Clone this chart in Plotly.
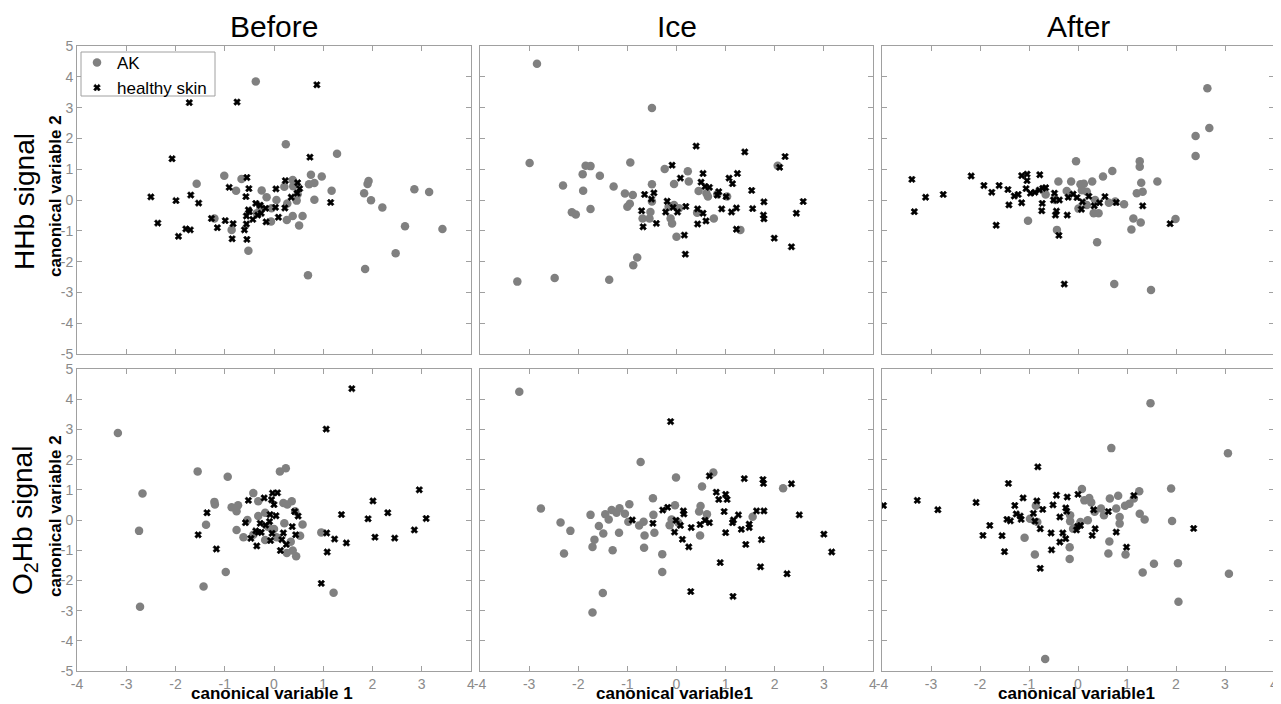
import plotly.graph_objects as go

# ---------------- data ----------------
# Panel 1: Before, HHb signal
before_hhb_ak_x = [-0.37, 0.24, 1.28, -1.01, -0.66, -1.57, -0.77, -0.25, -0.15, 0.21, 0.38, 0.39, 0.48, 0.46,
                   0.27, 0.38, 0.26, 0.58, 0.51, 0.75, 0.82, 0.71, 0.97, 0.82, 1.17, -0.06, 0.05, -0.05, -0.86,
                   -0.52, -1.21, 0.69, 1.83, 1.92, 1.90, 1.97, 2.20, 2.85, 3.15, 3.42, 2.66, 2.47, 1.85, -0.35, -0.28]
before_hhb_ak_y = [3.85, 1.81, 1.50, 0.79, 0.68, 0.53, 0.30, 0.31, 0.09, 0.43, 0.65, 0.45, 0.19, -0.02,
                   -0.11, -0.52, -0.65, -0.52, -0.83, 0.82, 0.55, 0.51, 0.76, 0.01, 0.30, -0.70, 0.00, -0.27, -0.97,
                   -1.65, -0.60, -2.44, 0.22, 0.62, 0.52, -0.01, -0.24, 0.35, 0.26, -0.94, -0.85, -1.73, -2.24, -0.43, -0.22]
before_hhb_hs_x = [-1.72, -0.75, 0.87, -2.07, 0.73, -2.50, -2.36, -1.99, -1.69, -1.53, -1.94, -1.79, -1.70, -1.27,
                   -1.15, -0.99, -0.91, -0.83, -0.85, -0.55, -0.51, -0.57, -0.52, -0.56, -0.50, -0.60, -0.56, -0.55,
                   -0.43, -0.37, -0.28, -0.33, -0.26, -0.17, -0.16, 0.04, 0.03, 0.09, 0.23, 0.22, 0.35, 0.48, 0.52, 0.47, 1.15]
before_hhb_hs_y = [3.16, 3.18, 3.74, 1.34, 1.39, 0.10, -0.75, -0.02, 0.16, -0.10, -1.18, -0.94, -0.97, -0.60,
                   -0.90, -0.67, 0.41, -0.77, -1.26, 0.73, 0.37, 0.11, -0.32, -0.52, -0.38, -0.97, -0.78, -1.28,
                   -0.63, -0.11, -0.17, -0.49, -0.43, -0.27, -0.71, 0.36, -0.24, -0.56, 0.63, -0.26, 0.09, 0.56, 0.37, 0.22, -0.08]

# Panel 2: Ice, HHb signal
ice_hhb_ak_x = [-2.84, -0.50, -2.99, -0.94, -1.85, -1.75, -1.91, -1.56, -2.31, -1.90, -1.28, -1.05, -0.89, -0.50,
                -0.24, -0.05, 0.23, 0.25, -2.13, -2.05, -1.75, -1.00, -0.95, -0.50, -0.53, -0.69, -0.55, -0.12,
                -0.09, -0.05, 0.05, 0.00, 0.45, 0.64, 0.61, 0.42, 0.76, 1.03, 1.30, 2.06, -0.80, -0.88, -2.48,
                -1.37, -3.24, -0.16, 0.83]
ice_hhb_ak_y = [4.42, 2.99, 1.20, 1.22, 1.11, 1.10, 0.84, 0.79, 0.47, 0.30, 0.44, 0.21, 0.16, 0.51,
                1.01, 0.52, 0.93, 0.60, -0.40, -0.47, -0.29, -0.22, -0.12, -0.05, -0.39, -0.60, -0.60, -0.60,
                -0.76, -0.16, -0.27, -1.19, 0.29, 0.11, 0.22, -0.41, -0.60, 0.11, -0.97, 1.11, -1.87, -2.12, -2.53,
                -2.59, -2.65, -0.22, 0.19]
ice_hhb_hs_x = [0.40, 1.39, 2.21, 2.10, -0.09, 0.08, 0.54, 0.50, 0.58, 0.67, 1.07, 1.24, 1.14, 0.86, 0.83, 1.01,
                1.53, 1.78, 2.58, 2.44, 1.77, 1.78, 1.55, 1.22, 1.12, 0.92, -0.65, -0.46, -0.51, -0.71, -0.68,
                -0.41, -0.19, -0.07, -0.22, 0.02, 0.19, 0.43, 0.54, 0.43, 0.60, 0.16, 0.18, 1.22, 1.99, 2.34]
ice_hhb_hs_y = [1.75, 1.56, 1.41, 1.06, 1.13, 0.71, 0.86, 0.58, 0.44, 0.41, 0.71, 0.86, 0.53, 0.27, 0.16, 0.11,
                0.31, -0.06, -0.05, -0.43, -0.49, -0.61, -0.28, -0.26, -0.39, -0.29, 0.18, 0.23, 0.03, -0.35, -0.87,
                -0.76, -0.04, -0.24, -0.39, -0.39, -0.21, -0.29, -0.43, -0.78, -0.68, -1.14, -1.76, -0.95, -1.24, -1.52]

# Panel 3: After, HHb signal
after_hhb_ak_x = [2.64, 2.68, 2.40, 2.40, -0.04, 0.70, 1.26, 1.26, 0.51, -0.40, -0.14, 0.05, 0.12, 0.29, 1.29,
                  1.62, -0.23, 0.08, 0.18, -0.66, 1.20, 1.32, 0.63, 0.76, 0.94, 0.35, 0.01, 0.18, 0.32, 0.42,
                  -1.02, 1.13, 1.28, 1.99, -0.43, 1.09, 0.39, 0.74, 1.49, -0.46]
after_hhb_ak_y = [3.63, 2.34, 2.08, 1.43, 1.26, 0.94, 1.26, 1.08, 0.76, 0.60, 0.60, 0.51, 0.53, 0.60, 0.56,
                  0.60, 0.29, 0.32, 0.27, 0.18, 0.22, 0.27, -0.09, -0.05, -0.14, 0.00, -0.28, -0.16, -0.43, -0.43,
                  -0.67, -0.60, -0.73, -0.62, -0.97, -0.96, -1.37, -2.73, -2.92, 0.00]
after_hhb_hs_x = [-3.39, -3.34, -3.11, -2.75, -2.18, -1.92, -1.76, -1.61, -1.43, -1.30, -1.22, -1.41, -1.15, -1.67,
                  -1.15, -1.04, -1.04, -1.06, -0.97, -0.88, -0.78, -0.79, -0.72, -0.66, -0.73, -0.74, -0.48, -0.50,
                  -0.38, -0.44, -0.46, -0.22, -0.39, -0.20, -0.10, -0.02, 0.09, 0.07, 0.22, 0.33, 0.44, 0.55, 0.78,
                  1.32, 1.88, -0.28]
after_hhb_hs_y = [0.67, -0.38, 0.09, 0.18, 0.78, 0.47, 0.25, 0.47, 0.34, 0.13, 0.18, -0.16, -0.09, -0.82,
                  0.79, 0.84, 0.63, 0.37, 0.22, 0.25, 0.82, 0.32, 0.38, 0.40, -0.11, -0.35, 0.22, 0.00,
                  0.00, -0.36, -0.49, -0.49, -1.15, 0.09, 0.19, 0.08, -0.06, -0.30, 0.12, -0.19, -0.09, 0.11, -0.08,
                  -0.19, -0.77, -2.73]

# Panel 4: Before, O2Hb signal
before_o2_ak_x = [-3.17, -2.67, -2.74, -2.72, -1.55, -0.94, -1.21, -1.20, -1.38, -1.43, -0.98, -0.86, -0.73, -0.76,
                  -0.76, -0.42, -0.32, -0.54, -0.62, -0.42, -0.32, -0.18, -0.18, -0.12, 0.00, 0.12, 0.24, 0.19,
                  0.27, 0.36, 0.21, 0.34, 0.26, 0.38, 0.45, 0.53, 0.58, 0.96, 1.21, 0.05, 0.43]
before_o2_ak_y = [2.88, 0.88, -0.36, -2.87, 1.61, 1.43, 0.60, 0.51, -0.16, -2.20, -1.72, 0.42, 0.49, 0.29,
                  -0.33, 0.89, 0.62, 0.00, -0.57, -0.49, 0.13, 0.24, -0.66, -0.22, -0.30, 1.61, 1.71, 0.56,
                  0.51, 0.62, -0.11, -0.72, -1.09, -1.01, -1.20, -0.52, -0.15, -0.41, -2.41, -0.57, 0.29]
before_o2_hs_x = [1.58, 1.06, 2.95, 2.01, 2.31, 1.37, 1.91, 3.09, 2.85, 2.05, 2.45, 1.07, 1.23, 1.47, 1.08, 0.96,
                  -1.36, -1.54, -1.17, -0.52, -0.20, -0.03, 0.07, -0.05, 0.00, -0.08, 0.04, -0.58, -0.37, -0.32,
                  -0.26, -0.28, -0.17, -0.09, -0.04, -0.07, -0.47, -0.35, 0.19, 0.16, 0.25, 0.13, 0.37, 0.42, 0.49, 0.44]
before_o2_hs_y = [4.35, 3.01, 1.00, 0.63, 0.24, 0.18, 0.04, 0.05, -0.33, -0.57, -0.60, -0.43, -0.63, -0.76, -1.06, -2.10,
                  0.24, -0.49, -0.96, 0.65, 0.73, 0.89, 0.90, 0.67, 0.51, 0.18, 0.14, -0.09, -0.36, -0.41,
                  -0.41, -0.11, -0.17, -0.05, -0.44, -0.68, -0.61, -0.86, -0.43, -0.65, -0.81, -1.01, -0.22, 0.28, 0.13, -0.49]

# Panel 5: Ice, O2Hb signal
ice_o2_ak_x = [-3.20, -0.73, 0.75, -0.01, 0.52, 2.17, -2.76, -2.36, -2.16, -2.29, -1.75, -1.67, -1.71, -1.58,
               -1.49, -1.45, -1.38, -1.32, -1.22, -1.16, -1.05, -0.96, -0.98, -1.17, -1.30, -0.76, -0.67, -0.65,
               -0.66, -0.48, -0.47, -0.45, -0.29, -0.29, -0.14, -0.03, -0.10, 0.49, 0.46, 0.62, 0.48, 1.55,
               -1.50, -1.71, 0.04]
ice_o2_ak_y = [4.25, 1.92, 1.57, 1.41, 1.11, 1.05, 0.38, -0.08, -0.36, -1.11, 0.17, -0.65, -0.89, -0.20,
               -0.45, 0.19, 0.02, 0.33, 0.24, 0.39, 0.21, 0.52, -0.06, -0.42, -1.00, -0.18, -0.06, -0.51,
               -0.92, 0.72, 0.17, -0.42, -1.13, -1.72, -0.17, 0.49, 0.02, 0.46, 0.28, 0.19, -0.51, 0.11,
               -2.42, -3.06, -0.09]
ice_o2_hs_x = [-0.12, 0.67, 1.38, 1.76, 1.77, 2.34, 0.81, 1.00, 1.03, 0.86, 0.97, -0.28, -0.18, 0.14, 0.15, -0.01,
               0.08, -0.04, 0.12, 0.25, 0.30, 0.48, 0.58, 0.67, -0.48, -0.90, 1.26, 1.14, 1.16, 1.32, 1.48, 1.48,
               1.63, 1.78, 1.00, 1.41, 1.73, 2.50, 3.00, 3.16, 0.89, 1.71, 2.25, 0.29, 1.15]
ice_o2_hs_y = [3.26, 1.46, 1.37, 1.34, 1.21, 1.20, 0.92, 0.85, 0.68, 0.68, 0.28, 0.33, 0.42, 0.30, 0.20, -0.01,
               -0.18, -0.40, -0.64, -0.89, -0.25, -0.15, -0.01, -0.09, -0.11, 0.00, 0.17, -0.09, 0.00, -0.31, -0.14, -0.25,
               0.30, 0.30, -0.42, -0.81, -0.65, 0.17, -0.47, -1.06, -1.41, -1.55, -1.78, -2.37, -2.53]

# Panel 6: After, O2Hb signal
after_o2_ak_x = [1.48, 0.68, 3.06, 1.90, 1.25, 0.08, 0.23, 0.27, 0.13, 0.65, 0.82, 0.78, 1.05, 0.96, 1.14, 0.85,
                 0.85, 1.26, 1.36, 1.92, 0.47, 0.53, 0.34, 0.20, 0.05, -0.10, -0.16, -0.16, -0.86, -0.98, -0.83,
                 -1.09, -0.88, -0.17, -0.17, 0.64, 0.62, 0.97, 1.32, 1.55, 2.04, 3.08, 2.05, -0.67]
after_o2_ak_y = [3.87, 2.38, 2.21, 1.04, 0.95, 1.03, 0.73, 0.58, 0.65, 0.71, 0.80, 0.38, 0.54, 0.47, 0.71, 0.10,
                 -0.12, 0.21, 0.02, -0.03, 0.38, 0.16, 0.27, -0.01, -0.07, -0.29, 0.16, -0.04, 0.47, 0.04, -0.07,
                 -0.59, -1.14, -0.90, -1.29, -0.71, -1.11, -1.14, -1.74, -1.45, -1.43, -1.78, -2.71, -4.60]
after_o2_hs_x = [-3.97, -3.28, -2.86, -2.08, -1.42, -0.82, -1.80, -1.94, -1.55, -1.50, -1.45, -1.38, -1.29, -1.26,
                 -1.18, -1.12, -1.16, -0.91, -0.84, -0.88, -0.72, -0.77, -0.77, -0.55, -0.54, -0.51, -0.44, -0.37,
                 -0.37, -0.31, -0.25, -0.25, -0.22, -0.23, 0.00, -0.01, 0.05, -0.03, 0.32, 0.35, 0.29, 0.62, 0.78,
                 1.14, 0.99, 2.36]
after_o2_hs_y = [0.48, 0.65, 0.34, 0.58, 1.21, 1.76, -0.18, -0.51, -0.52, -1.05, 0.02, -0.03, 0.48, 0.20,
                 0.13, 0.73, 0.02, 0.22, 0.63, -0.04, 0.35, -0.29, -1.60, -0.43, -0.99, 0.50, 0.82, 0.10,
                 -0.73, -0.43, -0.62, 0.40, 0.76, 0.29, 0.85, -0.21, -0.18, -0.33, 0.34, -0.29, -0.51, 0.28, -0.40,
                 0.81, -0.90, -0.28]

column_titles = ["Before", "Ice", "After"]
row_titles = ["HHb signal", "O<sub>2</sub>Hb signal"]
x_titles = ["canonical variable 1", "canonical variable1", "canonical variable1"]
y_title = "canonical variable 2"
series_names = ["AK", "healthy skin"]
axis_ticks = [-4, -3, -2, -1, 0, 1, 2, 3, 4]
axis_yticks = [-5, -4, -3, -2, -1, 0, 1, 2, 3, 4, 5]

panels = [
    (before_hhb_ak_x, before_hhb_ak_y, before_hhb_hs_x, before_hhb_hs_y),
    (ice_hhb_ak_x, ice_hhb_ak_y, ice_hhb_hs_x, ice_hhb_hs_y),
    (after_hhb_ak_x, after_hhb_ak_y, after_hhb_hs_x, after_hhb_hs_y),
    (before_o2_ak_x, before_o2_ak_y, before_o2_hs_x, before_o2_hs_y),
    (ice_o2_ak_x, ice_o2_ak_y, ice_o2_hs_x, ice_o2_hs_y),
    (after_o2_ak_x, after_o2_ak_y, after_o2_hs_x, after_o2_hs_y),
]

# ---------------- figure ----------------
# The page body adds an 8 px margin, so the figure is made 8 px smaller and
# every screen position is shifted by that offset.
OFF = 8
W, H = 1281 - OFF, 704 - OFF
FONT = "Liberation Sans, Arial, sans-serif"
GRAY_PT = "#808080"
AXIS_C = "#a0a0a0"
TICK_C = "#8a8a8a"


def fx(px):
    return (px - OFF) / W


def fy(py):
    return 1 - (py - OFF) / H


col_px = [(77, 471), (480, 873), (882, 1274)]
row_px = [(46, 354), (369, 671)]

fig = go.Figure()
layout = dict(
    width=W, height=H,
    margin=dict(l=0, r=0, t=0, b=0, pad=0, autoexpand=False),
    paper_bgcolor="white", plot_bgcolor="white",
    font=dict(family=FONT, color="black"),
    showlegend=True,
    legend=dict(x=fx(77), y=fy(45), xanchor="left", yanchor="top",
                bgcolor="rgba(0,0,0,0)", borderwidth=0,
                font=dict(size=17, family=FONT, color="black"),
                itemwidth=30, tracegroupgap=0),
)

for i, (akx, aky, hsx, hsy) in enumerate(panels):
    r, c = divmod(i, 3)
    idx = i + 1
    xa = "x" if idx == 1 else f"x{idx}"
    ya = "y" if idx == 1 else f"y{idx}"
    fig.add_trace(go.Scatter(
        x=akx, y=aky, mode="markers", name=series_names[0], legendgroup="ak",
        showlegend=(i == 0), xaxis=xa, yaxis=ya,
        marker=dict(symbol="circle", size=8.5, color=GRAY_PT, line=dict(width=0)),
    ))
    fig.add_trace(go.Scatter(
        x=hsx, y=hsy, mode="markers", name=series_names[1], legendgroup="hs",
        showlegend=(i == 0), xaxis=xa, yaxis=ya,
        marker=dict(symbol="x", size=6, color="black", line=dict(width=0.6, color="black")),
    ))
    x0, x1 = col_px[c]
    y0, y1 = row_px[r]
    xkey = "xaxis" if idx == 1 else f"xaxis{idx}"
    ykey = "yaxis" if idx == 1 else f"yaxis{idx}"
    common = dict(showline=True, linecolor=AXIS_C, linewidth=1, mirror="ticks",
                  ticks="inside", ticklen=5, tickcolor=AXIS_C, tickwidth=1,
                  showgrid=False, zeroline=False, automargin=False,
                  tickfont=dict(family=FONT, size=14, color=TICK_C), fixedrange=True)
    layout[xkey] = dict(common, domain=[fx(x0), fx(x1)], range=[-4, 4],
                        tickmode="array", tickvals=axis_ticks,
                        ticktext=[str(v) for v in axis_ticks],
                        showticklabels=(r == 1), anchor=ya)
    layout[ykey] = dict(common, domain=[fy(y1), fy(y0)], range=[-5, 5],
                        tickmode="array", tickvals=axis_yticks,
                        ticktext=[str(v) for v in axis_yticks],
                        showticklabels=(c == 0), anchor=xa)

# legend frame (opaque box like the reference)
shapes = [dict(type="rect", xref="paper", yref="paper",
               x0=fx(81), x1=fx(215), y0=fy(96), y1=fy(52),
               line=dict(color="#a0a0a0", width=1), fillcolor="white", layer="above")]

annotations = []
# column titles
for c, t in enumerate(column_titles):
    x0, x1 = col_px[c]
    annotations.append(dict(text=t, x=fx((x0 + x1) / 2), y=fy(27), xref="paper", yref="paper",
                            showarrow=False, xanchor="center", yanchor="middle",
                            font=dict(size=30, family=FONT, color="black")))
# row titles and y-axis titles
row_centers = [202, 521]
for r, t in enumerate(row_titles):
    annotations.append(dict(text=t, x=fx(24), y=fy(row_centers[r]), xref="paper", yref="paper",
                            showarrow=False, textangle=-90, xanchor="center", yanchor="middle",
                            font=dict(size=28, family=FONT, color="black")))
    y0, y1 = row_px[r]
    annotations.append(dict(text=f"<b>{y_title}</b>", x=fx(55), y=fy((y0 + y1) / 2 - 4),
                            xref="paper", yref="paper", showarrow=False, textangle=-90,
                            xanchor="center", yanchor="middle",
                            font=dict(size=17, family=FONT, color="black")))
# x-axis titles
for c, t in enumerate(x_titles):
    x0, x1 = col_px[c]
    annotations.append(dict(text=f"<b>{t}</b>", x=fx((x0 + x1) / 2 - 2), y=fy(693),
                            xref="paper", yref="paper", showarrow=False,
                            xanchor="center", yanchor="middle",
                            font=dict(size=17, family=FONT, color="black")))
layout["annotations"] = annotations
layout["shapes"] = shapes

fig.update_layout(**layout)
fig.write_html("out.html")
